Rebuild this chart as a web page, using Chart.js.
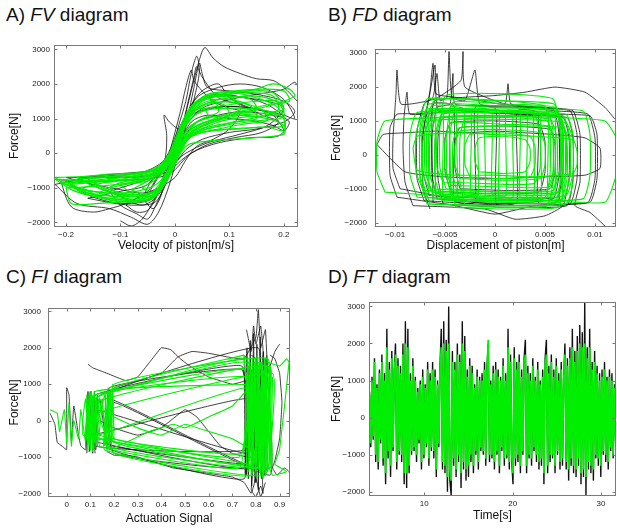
<!DOCTYPE html>
<html>
<head>
<meta charset="utf-8">
<script src="https://cdn.jsdelivr.net/npm/chart.js@4.4.1/dist/chart.umd.min.js"></script>
<style>
  body { margin: 0; background: #fff; width: 617px; height: 528px; overflow: hidden; position: relative; font-family: 'Liberation Sans', Arial, sans-serif; }
  canvas { position: absolute; }
  .ttl { position: absolute; font-size: 19px; line-height: 19px; color: #111; white-space: nowrap; }
  .ttl i { font-style: italic; }
</style>
</head>
<body>
<div class="ttl" style="left:6px;top:5px">A) <i>FV</i> diagram</div>
<div class="ttl" style="left:328px;top:5px">B) <i>FD</i> diagram</div>
<div class="ttl" style="left:6px;top:267px">C) <i>FI</i> diagram</div>
<div class="ttl" style="left:328px;top:267px">D) <i>FT</i> diagram</div>
<canvas id="fv" width="305" height="217" style="left:0px;top:36px"></canvas>
<canvas id="fd" width="310" height="217" style="left:307px;top:36px"></canvas>
<canvas id="fi" width="305" height="230" style="left:0px;top:296px"></canvas>
<canvas id="ft" width="310" height="230" style="left:307px;top:293px"></canvas>
<script>
// tick labels
const forceTicks = [-2000, -1000, 0, 1000, 2000, 3000];
const fvTicksX = [-0.2, -0.1, 0, 0.1, 0.2];
const fdTicksX = [-0.01, -0.005, 0, 0.005, 0.01];
const fiTicksX = [0, 0.1, 0.2, 0.3, 0.4, 0.5, 0.6, 0.7, 0.8, 0.9];
const ftTicksX = [10, 20, 30];

// A) force vs velocity [m/s, N]
const fvBlackLoops = [
  [[-0.05,-1200],[-0.02,-400],[0.01,600],[0.03,1800],[0.045,2700],[0.055,3050],[0.07,2750],[0.09,2500],[0.12,2300],[0.15,2150],[0.18,2100],[0.2,1900],[0.225,1500]],
  [[-0.18,-700],[-0.14,-1000],[-0.1,-1250],[-0.06,-1500],[-0.03,-1200],[0,-300],[0.02,800],[0.035,1900],[0.045,2600],[0.05,2300],[0.06,1900],[0.1,1800],[0.15,1700],[0.2,1500],[0.22,1200],[0.2,900],[0.15,700],[0.1,600],[0.05,400],[0.02,100],[0,-300],[-0.03,-600],[-0.08,-700],[-0.13,-650],[-0.18,-700]],
  [[-0.22,-900],[-0.18,-1450],[-0.12,-1600],[-0.08,-1850],[-0.05,-2050],[-0.03,-1700],[-0.01,-900],[0.01,200],[0.03,1200],[0.05,1600],[0.09,1700],[0.13,1600],[0.17,1500],[0.2,1300],[0.17,800],[0.12,550],[0.06,300],[0.02,0],[-0.02,-450],[-0.07,-550],[-0.14,-650],[-0.22,-900]],
  [[-0.12,-1100],[-0.1,-1500],[-0.07,-1750],[-0.05,-1900],[-0.035,-1500],[-0.015,-800],[0.005,200],[0.02,1200],[0.035,2200],[0.04,2500],[0.05,2200],[0.08,1600],[0.12,1400],[0.16,1100],[0.19,900],[0.16,600],[0.11,450],[0.06,250],[0.02,-100],[-0.01,-500],[-0.05,-750],[-0.12,-1100]],
  [[-0.2,-700],[-0.15,-900],[-0.1,-1050],[-0.06,-1150],[-0.03,-1000],[-0.01,-300],[0.01,500],[0.03,1100],[0.07,1300],[0.11,1350],[0.16,1250],[0.2,1100],[0.22,1000],[0.2,1550],[0.16,1900],[0.12,2000],[0.08,1900],[0.04,1600],[0.01,700],[-0.02,-400],[-0.06,-650],[-0.12,-700],[-0.2,-700]],
  [[-0.16,-1300],[-0.11,-1450],[-0.07,-1500],[-0.035,-1400],[-0.01,-600],[0.01,300],[0.03,900],[0.06,1100],[0.1,1000],[0.14,950],[0.18,800],[0.2,650],[0.18,1100],[0.14,1300],[0.09,1350],[0.05,1250],[0.02,800],[-0.01,-100],[-0.05,-900],[-0.1,-1100],[-0.16,-1300]],
  [[-0.06,-1300],[-0.04,-1600],[-0.025,-1200],[-0.01,-200],[0.005,700],[0.02,1500],[0.03,2300],[0.04,2800],[0.045,2400],[0.04,1900],[0.03,1300],[0.01,700],[-0.01,900],[-0.02,1100],[-0.015,500],[-0.02,-300],[-0.04,-700],[-0.06,-1300]],
  [[-0.1,-1950],[-0.08,-2100],[-0.06,-1900],[-0.04,-1400],[-0.02,-700],[0,0],[0.02,800],[0.05,1300],[0.09,1500],[0.13,1650],[0.17,1750],[0.2,1850],[0.22,2050],[0.225,1950]],
  [[-0.2,-800],[-0.16,-1200],[-0.12,-1400],[-0.08,-1450],[-0.04,-1300],[-0.02,-700],[0.01,300],[0.04,900],[0.08,1100],[0.12,1200],[0.16,1150],[0.2,1050],[0.17,1400],[0.13,1600],[0.08,1650],[0.04,1450],[0.01,800],[-0.02,-200],[-0.06,-550],[-0.12,-650],[-0.2,-800]],
  [[-0.09,-1500],[-0.07,-1700],[-0.05,-1650],[-0.035,-1300],[-0.02,-600],[-0.005,300],[0.01,1200],[0.02,1900],[0.03,2400],[0.035,2100],[0.05,1800],[0.07,1500],[0.1,1300],[0.12,1200],[0.1,700],[0.07,400],[0.04,200],[0.02,-200],[0,-700],[-0.03,-1000],[-0.06,-1200],[-0.09,-1500]],
  [[-0.21,-800],[-0.19,-1550],[-0.15,-1700],[-0.12,-1600],[-0.09,-1450],[-0.05,-1100],[-0.02,-300],[0.01,700],[0.03,1400],[0.05,1800],[0.08,2000],[0.1,1600],[0.14,1300],[0.18,1150],[0.21,900],[0.19,500],[0.14,450],[0.08,300],[0.03,0],[-0.01,-600],[-0.06,-750],[-0.13,-800],[-0.21,-800]]
];
const fvGreenLoops = [
  [[-0.2,-800],[-0.17,-1150],[-0.12,-1300],[-0.07,-1350],[-0.03,-1100],[0,-300],[0.02,350],[0.05,600],[0.1,700],[0.15,750],[0.2,800],[0.19,1300],[0.15,1600],[0.1,1750],[0.05,1600],[0.02,1100],[0,400],[-0.02,-300],[-0.05,-550],[-0.1,-650],[-0.15,-700],[-0.2,-800]],
  [[-0.15,-850],[-0.12,-1100],[-0.08,-1250],[-0.04,-1200],[-0.015,-800],[0.01,100],[0.03,550],[0.07,750],[0.11,900],[0.15,1000],[0.14,1350],[0.1,1550],[0.06,1500],[0.03,1200],[0.005,500],[-0.02,-350],[-0.06,-600],[-0.1,-700],[-0.15,-850]],
  [[-0.22,-750],[-0.19,-1050],[-0.15,-1250],[-0.1,-1400],[-0.05,-1350],[-0.02,-800],[0.01,200],[0.04,650],[0.09,850],[0.14,1000],[0.18,1150],[0.2,1300],[0.18,1750],[0.14,1800],[0.1,1750],[0.05,1550],[0.02,1000],[0,200],[-0.03,-500],[-0.08,-700],[-0.14,-800],[-0.22,-750]],
  [[-0.1,-900],[-0.08,-1150],[-0.05,-1200],[-0.02,-850],[0.005,0],[0.025,500],[0.05,800],[0.08,1000],[0.1,1100],[0.09,1400],[0.06,1450],[0.03,1150],[0.01,400],[-0.015,-400],[-0.04,-650],[-0.07,-800],[-0.1,-900]],
  [[-0.18,-700],[-0.15,-950],[-0.11,-1150],[-0.06,-1250],[-0.025,-950],[0,-200],[0.025,250],[0.06,350],[0.1,400],[0.15,450],[0.2,550],[0.2,800],[0.17,1000],[0.12,1100],[0.07,1050],[0.03,800],[0.005,250],[-0.02,-350],[-0.06,-550],[-0.12,-600],[-0.18,-700]],
  [[-0.16,-750],[-0.12,-1050],[-0.07,-1200],[-0.03,-1000],[0,-100],[0.03,700],[0.08,1000],[0.13,1200],[0.18,1400],[0.22,1650],[0.21,1850],[0.18,2000],[0.15,1850],[0.1,1700],[0.05,1500],[0.02,900],[-0.01,0],[-0.04,-500],[-0.1,-650],[-0.16,-750]],
  [[-0.12,-1000],[-0.09,-1300],[-0.05,-1350],[-0.025,-1000],[0,-200],[0.02,450],[0.05,850],[0.09,1100],[0.12,1250],[0.11,1550],[0.07,1650],[0.035,1400],[0.01,600],[-0.02,-500],[-0.05,-800],[-0.09,-900],[-0.12,-1000]],
  [[-0.2,-1000],[-0.19,-1450],[-0.14,-1450],[-0.09,-1400],[-0.045,-1300],[-0.02,-700],[0.005,100],[0.03,500],[0.08,700],[0.13,850],[0.17,950],[0.16,1250],[0.12,1450],[0.07,1450],[0.03,1150],[0.005,300],[-0.03,-600],[-0.08,-850],[-0.14,-950],[-0.2,-1000]],
  [[-0.06,-1000],[-0.04,-1150],[-0.02,-800],[0,-100],[0.02,500],[0.04,900],[0.06,1100],[0.05,1300],[0.03,1150],[0.01,500],[-0.01,-300],[-0.03,-700],[-0.06,-1000]],
  [[-0.21,-850],[-0.17,-1050],[-0.12,-1150],[-0.07,-1100],[-0.03,-850],[0,-150],[0.03,500],[0.08,900],[0.13,1050],[0.18,1100],[0.2,1200],[0.19,1500],[0.15,1500],[0.1,1400],[0.05,1250],[0.02,800],[-0.01,-100],[-0.05,-650],[-0.11,-800],[-0.21,-850]],
  [[-0.19,-900],[-0.15,-1200],[-0.1,-1350],[-0.06,-1350],[-0.03,-1150],[-0.01,-500],[0.01,200],[0.04,700],[0.08,950],[0.12,1100],[0.16,1150],[0.19,1250],[0.18,1650],[0.14,1750],[0.09,1700],[0.05,1600],[0.025,1250],[0.005,500],[-0.02,-400],[-0.06,-700],[-0.12,-800],[-0.19,-900]],
  [[-0.14,-1150],[-0.1,-1300],[-0.06,-1300],[-0.03,-1100],[-0.01,-450],[0.01,300],[0.04,800],[0.08,1000],[0.12,1150],[0.15,1250],[0.14,1550],[0.1,1650],[0.06,1600],[0.03,1300],[0.01,600],[-0.015,-300],[-0.05,-700],[-0.1,-850],[-0.14,-1150]],
  [[-0.08,-1050],[-0.05,-1250],[-0.03,-1050],[-0.01,-400],[0.01,350],[0.03,800],[0.06,1050],[0.08,1200],[0.07,1550],[0.04,1500],[0.02,1000],[0,200],[-0.02,-450],[-0.05,-800],[-0.08,-1050]],
  [[-0.2,-900],[-0.16,-1150],[-0.1,-1250],[-0.05,-1200],[-0.02,-900],[0,-250],[0.02,400],[0.06,700],[0.11,850],[0.16,950],[0.2,1050],[0.19,1450],[0.15,1650],[0.1,1600],[0.06,1450],[0.03,1100],[0.005,350],[-0.02,-350],[-0.07,-650],[-0.13,-750],[-0.2,-900]],
  [[-0.17,-1000],[-0.13,-1300],[-0.08,-1400],[-0.04,-1300],[-0.015,-800],[0.01,0],[0.03,500],[0.07,650],[0.12,700],[0.17,750],[0.2,650],[0.2,1000],[0.16,1250],[0.11,1300],[0.06,1250],[0.025,950],[0,200],[-0.03,-550],[-0.08,-750],[-0.13,-850],[-0.17,-1000]],
  [[-0.22,-700],[-0.2,-900],[-0.15,-1100],[-0.09,-1200],[-0.045,-1150],[-0.02,-700],[0.005,50],[0.03,600],[0.07,900],[0.12,1200],[0.17,1400],[0.21,1500],[0.2,1800],[0.16,1850],[0.11,1800],[0.06,1700],[0.03,1300],[0.01,600],[-0.02,-250],[-0.06,-550],[-0.14,-650],[-0.22,-700]]
];

// B) force vs displacement [m, N]
const fdBlackLoops = [
  [[-0.0071,-1350],[-0.0078,-700],[-0.0078,700],[-0.0071,1500],[-0.0062,1700],[-0.0058,2400],[-0.0055,1600],[-0.0048,1700],[-0.0046,3050],[-0.0043,1700],[-0.003,1600],[-0.002,2500],[-0.0015,1500],[0.002,1400],[0.0075,1300],[0.0082,600],[0.0082,-700],[0.0075,-1450],[0.003,-1500],[-0.002,-1450],[-0.0071,-1350]],
  [[-0.0095,-1000],[-0.0102,-400],[-0.0102,500],[-0.0099,1800],[-0.0098,2500],[-0.0094,1500],[-0.006,1650],[-0.0034,2200],[-0.0032,3050],[-0.003,2000],[0.001,1500],[0.006,1300],[0.0093,1200],[0.01,500],[0.01,-700],[0.0093,-1400],[0.004,-1450],[-0.002,-1400],[-0.0095,-1000]],
  [[-0.0118,300],[-0.0112,600],[-0.009,650],[-0.006,700],[-0.003,650],[0,700],[0.003,650],[0.006,600],[0.009,500],[0.0105,200],[0.0105,-400],[0.009,-600],[0.005,-650],[0,-700],[-0.005,-650],[-0.009,-500],[-0.0118,300]],
  [[-0.0065,-1600],[-0.0072,-1000],[-0.0073,400],[-0.0069,1200],[-0.0065,1900],[-0.0062,2700],[-0.0059,1800],[-0.004,1700],[-0.0015,1600],[0.001,1500],[0.0013,2100],[0.0016,1500],[0.005,1400],[0.0078,1300],[0.0085,600],[0.0085,-800],[0.008,-1500],[0.0095,-1700],[0.011,-2100]],
  [[-0.0098,-1250],[-0.0105,-600],[-0.0105,800],[-0.0098,1200],[-0.007,1250],[-0.006,2650],[-0.0057,1300],[-0.002,1250],[0.003,1200],[0.0095,1150],[0.0102,600],[0.0102,-700],[0.0095,-1400],[0.004,-1500],[0,-1750],[-0.004,-1500],[-0.0098,-1250]],
  [[-0.0044,-1100],[-0.005,-500],[-0.005,500],[-0.0044,950],[0,1000],[0.0044,900],[0.005,400],[0.005,-500],[0.0044,-1100],[0,-1150],[-0.0044,-1100]],
  [[-0.0065,1000],[-0.006,1600],[-0.003,1700],[0,1750],[0.003,1850],[0.006,2000],[0.009,1850],[0.011,1400],[0.012,1050]],
  [[-0.0082,-1500],[-0.009,-800],[-0.0092,200],[-0.0091,1100],[-0.0088,1850],[-0.0085,1200],[-0.004,1300],[0.002,1200],[0.0068,1100],[0.0074,500],[0.0074,-700],[0.0068,-1500],[0.005,-1800],[0.002,-1900],[-0.001,-1600],[-0.0082,-1500]],
  [[-0.0058,-1300],[-0.0063,-600],[-0.0063,600],[-0.0058,1400],[-0.0045,1500],[-0.0042,2400],[-0.004,1500],[0,1450],[0.0058,1350],[0.0064,600],[0.0064,-600],[0.0058,-1300],[0,-1450],[-0.0058,-1300]],
  [[-0.0035,-1000],[-0.004,-400],[-0.004,400],[-0.0035,800],[0.001,850],[0.0055,750],[0.006,300],[0.006,-500],[0.0055,-1000],[0.001,-1050],[-0.0035,-1000]],
  [[-0.0066,-1200],[-0.0072,-500],[-0.0072,600],[-0.0066,1300],[0,1250],[0.0062,1150],[0.0068,600],[0.0068,-500],[0.0062,-1250],[0,-1300],[-0.0066,-1200]],
  [[-0.0052,-1450],[-0.0057,-700],[-0.0057,500],[-0.0052,1100],[0.001,1150],[0.0072,1100],[0.0078,500],[0.0078,-700],[0.0072,-1500],[0.001,-1550],[-0.0052,-1450]],
  [[-0.0062,-1400],[-0.0062,1500],[-0.0041,1450],[-0.0041,-1350],[-0.002,-1400],[-0.002,1400],[0.0001,1350],[0.0001,-1450],[0.0022,-1400],[0.0022,1300],[0.0043,1250],[0.0043,-1400],[0.0064,-1350],[0.0064,1200]]
];
const fdGreenLoops = [
  [[-0.0068,-1250],[-0.0075,-600],[-0.0075,600],[-0.0068,1350],[0,1300],[0.0068,1150],[0.0075,500],[0.0075,-600],[0.0068,-1300],[0,-1350],[-0.0068,-1250]],
  [[-0.0063,-1100],[-0.007,-500],[-0.007,700],[-0.0063,1450],[0,1400],[0.0061,1300],[0.0068,600],[0.0068,-500],[0.0061,-1150],[0,-1200],[-0.0063,-1100]],
  [[-0.0053,-1350],[-0.006,-700],[-0.006,500],[-0.0053,1200],[0.001,1250],[0.0065,1100],[0.0072,400],[0.0072,-700],[0.0065,-1400],[0.001,-1400],[-0.0053,-1350]],
  [[-0.0044,-900],[-0.005,-400],[-0.005,400],[-0.0044,950],[0.001,900],[0.0054,850],[0.006,350],[0.006,-450],[0.0054,-950],[0.001,-950],[-0.0044,-900]],
  [[-0.0061,-1300],[-0.0068,-600],[-0.0068,800],[-0.0061,1600],[-0.002,1650],[0.0049,1450],[0.0055,700],[0.0055,-600],[0.0049,-1300],[-0.001,-1350],[-0.0061,-1300]],
  [[-0.0035,-700],[-0.004,-300],[-0.004,300],[-0.0035,700],[0.0005,750],[0.0045,650],[0.005,300],[0.005,-300],[0.0045,-700],[0.0005,-750],[-0.0035,-700]],
  [[-0.0065,-1450],[-0.0072,-800],[-0.0072,400],[-0.0065,1000],[0,1050],[0.0071,950],[0.0078,400],[0.0078,-800],[0.0071,-1450],[0,-1500],[-0.0065,-1450]],
  [[-0.0025,-650],[-0.003,-300],[-0.003,300],[-0.0025,600],[0.0005,650],[0.0035,550],[0.004,250],[0.004,-300],[0.0035,-650],[0.0005,-700],[-0.0025,-650]],
  [[-0.011,-1100],[-0.0118,-500],[-0.0118,400],[-0.011,1000],[-0.005,1100],[0,1150],[0.006,1100],[0.011,1000],[0.0121,500],[0.0121,-600],[0.011,-1400],[0.005,-1350],[0,-1300],[-0.006,-1200],[-0.011,-1100]],
  [[-0.0078,-1250],[-0.0085,-600],[-0.0085,600],[-0.0078,1250],[0,1350],[0.0088,1300],[0.0095,600],[0.0095,-600],[0.0088,-1300],[0,-1350],[-0.0078,-1250]],
  [[-0.0049,-1000],[-0.0055,-400],[-0.0055,900],[-0.0049,1750],[0.001,1800],[0.0058,1650],[0.0065,800],[0.0065,-400],[0.0058,-1050],[0.001,-1100],[-0.0049,-1000]],
  [[-0.0039,-1550],[-0.0045,-800],[-0.0045,600],[-0.0039,1350],[0.001,1300],[0.0063,1250],[0.007,600],[0.007,-800],[0.0063,-1550],[0.001,-1600],[-0.0039,-1550]],
  [[-0.0058,-1200],[-0.0065,-600],[-0.0065,500],[-0.0058,1100],[0,1150],[0.0055,1050],[0.0062,500],[0.0062,-600],[0.0055,-1250],[0,-1250],[-0.0058,-1200]],
  [[-0.0066,-1000],[-0.0073,-500],[-0.0073,700],[-0.0066,1500],[0,1450],[0.0051,1400],[0.0058,700],[0.0058,-500],[0.0051,-1050],[0,-1100],[-0.0066,-1000]],
  [[-0.0036,-1300],[-0.0042,-600],[-0.0042,400],[-0.0036,800],[0.002,850],[0.0068,800],[0.0075,400],[0.0075,-600],[0.0068,-1300],[0.002,-1350],[-0.0036,-1300]],
  [[-0.0052,-800],[-0.0058,-400],[-0.0058,600],[-0.0052,1250],[-0.001,1300],[0.0039,1200],[0.0045,600],[0.0045,-400],[0.0039,-850],[-0.001,-850],[-0.0052,-800]],
  [[-0.0068,-1450],[-0.0075,-700],[-0.0075,800],[-0.0068,1650],[-0.001,1600],[0.0059,1500],[0.0066,700],[0.0066,-700],[0.0059,-1450],[0,-1500],[-0.0068,-1450]],
  [[-0.0059,-1150],[-0.0066,-500],[-0.0066,600],[-0.0059,1350],[0.001,1300],[0.0071,1200],[0.0078,600],[0.0078,-500],[0.0071,-1200],[0.001,-1250],[-0.0059,-1150]],
  [[-0.0042,-1350],[-0.0048,-700],[-0.0048,700],[-0.0042,1550],[0.001,1500],[0.0061,1400],[0.0068,700],[0.0068,-700],[0.0061,-1400],[0.001,-1400],[-0.0042,-1350]],
  [[-0.0016,-500],[-0.002,-200],[-0.002,200],[-0.0016,500],[0.0008,550],[0.003,450],[0.0035,200],[0.0035,-200],[0.003,-500],[0.0008,-550],[-0.0016,-500]],
  [[-0.0072,-1050],[-0.0079,-500],[-0.0079,600],[-0.0072,1200],[0,1250],[0.0064,1150],[0.0071,600],[0.0071,-500],[0.0064,-1100],[0,-1150],[-0.0072,-1050]],
  [[-0.003,-1500],[-0.0035,-800],[-0.0035,500],[-0.003,1050],[0.001,1100],[0.0052,1000],[0.0058,500],[0.0058,-800],[0.0052,-1500],[0.001,-1550],[-0.003,-1500]],
  [[-0.0066,-1150],[-0.0066,1250],[-0.0052,1300],[-0.0052,-1200],[-0.0038,-1250],[-0.0038,1350],[-0.0024,1300],[-0.0024,-1200],[-0.001,-1250],[-0.001,1250],[0.0004,1300],[0.0004,-1300],[0.0018,-1250],[0.0018,1200],[0.0032,1250],[0.0032,-1300],[0.0046,-1250],[0.0046,1150],[0.006,1100],[0.006,-1200]],
  [[-0.0059,1400],[-0.0059,-1100],[-0.0045,-1150],[-0.0045,1400],[-0.0031,1350],[-0.0031,-1150],[-0.0017,-1200],[-0.0017,1350],[-0.0003,1300],[-0.0003,-1150],[0.0011,-1200],[0.0011,1300],[0.0025,1250],[0.0025,-1250],[0.0039,-1200],[0.0039,1250],[0.0053,1200],[0.0053,-1250],[0.0067,-1200],[0.0067,1100]],
  [[-0.0082,200],[-0.0078,550],[-0.004,650],[0,600],[0.004,550],[0.0078,450],[0.0082,100],[0.0082,-300],[0.0078,-550],[0.004,-650],[0,-600],[-0.004,-600],[-0.0078,-450],[-0.0082,200]]
];

// C) force vs actuation signal [-, N]
const fiBlackPaths = [
  [[0.09,1550],[0.11,1450],[0.13,1400],[0.15,1350],[0.17,1300],[0.25,1100],[0.3,1200],[0.35,1600],[0.4,2000],[0.44,1950],[0.48,1700],[0.52,1500],[0.6,1200],[0.7,1000],[0.76,1100]],
  [[0.2,900],[0.3,1100],[0.4,1300],[0.47,1750],[0.53,1900],[0.6,1850],[0.68,1750],[0.75,1700],[0.8,2300],[0.81,3050],[0.82,2000],[0.84,2500],[0.85,1300],[0.86,1500],[0.88,1900],[0.9,2100]],
  [[0.08,-700],[0.1,800],[0.11,-800],[0.12,700],[0.74,1500],[0.76,-1500],[0.78,1400],[0.8,-1700],[0.82,1600],[0.84,-1400],[0.18,600],[0.19,-800],[0.75,-1600],[0.77,1500],[0.79,-1200],[0.81,2000],[0.19,800],[0.17,-650],[0.74,-1200]],
  [[0.17,-850],[0.2,-950],[0.25,-950],[0.3,-1000],[0.35,-1100],[0.4,-1200],[0.45,-1300],[0.5,-1350],[0.55,-1400],[0.6,-1450],[0.65,-1500],[0.7,-1550],[0.75,-1700],[0.78,-2000],[0.8,-1600],[0.82,-2100],[0.84,-1700]],
  [[0.14,0],[0.2,-200],[0.3,-400],[0.4,-200],[0.5,300],[0.55,100],[0.6,-300],[0.65,-700],[0.7,-900],[0.78,-1000],[0.8,1500],[0.82,-1300],[0.84,1700],[0.86,-1500],[0.2,500],[0.17,-700],[0.14,600],[0.12,-700],[0.76,-800],[0.8,1300]],
  [[-0.07,200],[-0.05,-100],[-0.04,-600],[-0.02,-700],[0,-800],[0,900],[0.01,700],[0.02,-600],[0.03,400],[0.05,-400],[0.06,-700],[0.08,-800],[0.1,600],[0.12,-900]],
  [[0.86,1800],[0.88,1700],[0.9,1300],[0.91,500],[0.9,-500],[0.88,-1100],[0.87,-1300],[0.89,-1500],[0.92,-1300],[0.94,-1400],[0.95,-1700]],
  [[0.76,2500],[0.78,1900],[0.79,2600],[0.8,2100],[0.82,2600],[0.83,1900],[0.78,-1900],[0.8,-2100],[0.82,-1800],[0.83,-2000],[0.8,1700],[0.78,1800]],
  [[0.13,-600],[0.75,-1300],[0.78,1200],[0.8,-1300],[0.2,-900],[0.18,900],[0.74,1400],[0.77,-900],[0.12,300],[0.1,-400],[0.76,600],[0.81,-1000]],
  [[0.75,1800],[0.755,-1500],[0.762,2000],[0.768,-1600],[0.776,2200],[0.782,-1800],[0.79,2400],[0.796,-1700],[0.804,2100],[0.81,-1900],[0.818,2300],[0.824,-1600],[0.832,1900],[0.838,-1500],[0.846,1800]],
  [[0.085,-900],[0.09,800],[0.097,-850],[0.103,750],[0.11,-900],[0.117,800],[0.123,-800],[0.13,700]]
];
const fiGreenPaths = [
  [[0.08,-500],[0.09,600],[0.1,-700],[0.11,700],[0.12,-600],[0.13,650],[0.76,1600],[0.78,-1300],[0.8,1700],[0.82,-1500],[0.84,1500],[0.86,-1300],[0.17,-700],[0.18,800],[0.19,-600],[0.2,900],[0.75,1800]],
  [[0.75,1800],[0.79,-1200],[0.83,1400],[0.85,-1400],[0.87,1300],[0.13,200],[0.11,-750],[0.1,800],[0.09,-650],[0.12,700],[0.78,1200],[0.8,-1000],[0.82,1600],[0.84,-1500],[0.16,-800],[0.18,600],[0.2,-500],[0.74,-900],[0.76,1300],[0.8,-1400]],
  [[0.8,-1400],[0.81,1400],[0.83,-1600],[0.85,1700],[0.2,1000],[0.18,-500],[0.16,700],[0.14,-700],[0.73,-1300],[0.78,1100],[0.82,-1200],[0.85,1500],[0.12,500],[0.1,-800],[0.08,600],[0.07,-400],[0.73,-1000],[0.79,1300]],
  [[0.79,1300],[0.84,-1300],[0.86,1500],[0.7,400],[0.6,100],[0.5,-200],[0.45,-100],[0.35,-300],[0.25,-600],[0.17,-800],[0.15,600],[0.12,-600],[0.1,500],[0.08,-500],[0.76,900],[0.82,-1100],[0.84,1300],[0.86,-800]],
  [[-0.07,300],[-0.04,200],[-0.03,-300],[-0.01,300],[0,-600],[0.01,500],[0.02,-700],[0.03,0],[0.05,-500],[0.06,300],[0.08,-600],[0.1,700]],
  [[0.85,1600],[0.9,1500],[0.93,1700],[0.94,1600],[0.9,-800],[0.88,-1200],[0.93,-1400],[0.87,-1500],[0.85,-1200]],
  [[0.2,100],[0.3,-200],[0.4,-400],[0.5,-100],[0.6,-300],[0.7,-500],[0.82,-900],[0.83,1100],[0.85,-1300],[0.1,-400],[0.12,650],[0.14,-400],[0.77,-1200]],
  [[0.76,-1300],[0.765,1500],[0.77,-1400],[0.775,1600],[0.78,-1500],[0.785,1700],[0.79,-1400],[0.795,1600],[0.8,-1500],[0.805,1800],[0.81,-1300],[0.815,1700],[0.82,-1500],[0.825,1600],[0.83,-1400],[0.835,1700],[0.84,-1500],[0.845,1500],[0.85,-1300],[0.855,1600],[0.86,-1200],[0.865,1400]],
  [[0.77,1200],[0.772,-1100],[0.78,1400],[0.788,-1300],[0.797,1500],[0.803,-1200],[0.812,1600],[0.818,-1400],[0.827,1400],[0.833,-1500],[0.842,1700],[0.848,-1400],[0.857,1500],[0.863,-1300],[0.87,1200]],
  [[0.08,-800],[0.085,700],[0.09,-850],[0.095,750],[0.1,-800],[0.105,800],[0.11,-850],[0.115,700],[0.12,-750],[0.125,650],[0.13,-700],[0.135,600]],
  [[0.16,-700],[0.165,800],[0.17,-750],[0.175,900],[0.18,-800],[0.185,850],[0.19,-700],[0.195,1000],[0.2,-600]],
  [[0.2,800],[0.76,1700],[0.79,-1200],[0.2,-600],[0.14,700],[0.75,1400],[0.78,-1500],[0.2,-900],[0.12,800],[0.77,1000]]
];

// D) force vs time, sampled from 3.8 s every 0.14 s
const ftStart = 3.8;
const ftStep = 0.14;
const ftBlack = [
  700,-800,1100,-600,1600,-1200,900,-1400,1300,-700,1700,-1300,1200,-1800,2400,-1100,1500,-1600,1800,-900,
  1300,2000,-1400,1600,-1000,1400,-1200,2000,-1800,2600,-1900,2400,-1500,1200,-1000,1600,-900,1100,-1200,800,
  -700,1000,-1400,1300,-1100,900,-800,1500,-1300,1200,-900,1500,-1100,1300,-1600,1000,-800,1400,2400,-1400,
  2600,-1500,2100,-2000,3000,-1700,-2100,1800,-1300,1500,-1600,2000,-1200,1700,-1900,2600,-1400,2200,-1700,1300,
  -1600,1600,-1200,1400,-1500,900,-1000,1300,-1400,1100,-900,1200,-1000,1500,-1300,1400,2000,-1200,1000,-1100,
  1400,-1400,1500,-1000,1300,-1500,1100,-900,1600,-1300,1200,-1100,2400,-1400,1700,-1200,-1800,1900,-1300,1500,
  -1200,1700,-1500,1300,-1000,1600,2100,-1500,1400,-1100,1200,-1300,1600,-900,1100,-1200,1500,-1400,1000,-1300,
  1300,-1800,1600,2100,-1500,1400,-1200,1700,-1100,1300,-1500,1600,-1000,1200,-1400,1500,-1300,1100,2000,-1400,
  1600,-1700,1900,-1300,2400,-1500,1800,-1600,2200,-1300,2500,-1800,2300,-1600,3100,-2100,1900,-1400,2400,-1500,
  1500,-1700,1800,-1100,1400,-1300,1200,-1600,1300,-1000,1500,-1200,1100,-1400,1300,-900,1200,-1100,900,-700
];
const ftGreen = [
  600,-700,1000,-500,1500,-1000,800,-1200,1200,-600,1500,-1100,1000,-1500,1900,-900,1300,-1300,1600,-800,
  1100,1700,-1200,1400,-900,1200,-1000,1700,-1500,2000,-1500,1900,-1300,1000,-900,1400,-800,1000,-1000,700,
  -600,900,-1200,1100,-1000,800,-700,1300,-1100,1000,-800,1300,-900,1100,-1400,900,-700,1200,1900,-1200,
  2000,-1300,1800,-1600,2000,-1400,-1700,1500,-1100,1300,-1400,1700,-1000,1500,-1500,2000,-1200,1800,-1400,1100,
  -1300,1400,-1000,1200,-1300,800,-900,1100,-1200,1000,-800,1000,-900,1300,-1100,1200,2100,-1000,900,-1000,
  1200,-1200,1300,-900,1100,-1300,1000,-800,1400,-1100,1000,-1000,1900,-1200,1500,-1000,-1500,1600,-1100,1300,
  -1000,1500,-1300,1100,-900,1400,1700,-1300,1200,-1000,1000,-1100,1400,-800,1000,-1000,1300,-1200,900,-1100,
  1100,-1500,1400,1700,-1300,1200,-1000,1500,-1000,1100,-1300,1400,-900,1000,-1200,1300,-1100,1000,1700,-1200,
  1400,-1400,1600,-1100,1900,-1300,1500,-1400,1800,-1100,2000,-1500,1900,-1400,2000,-1600,1600,-1200,1900,-1300,
  1300,-1400,1500,-1000,1200,-1100,1000,-1300,1100,-900,1300,-1000,1000,-1200,1100,-800,1000,-1000,800,-600
];

const BLACK = '#111111';
const GREEN = '#00ee00';

Chart.defaults.font.family = "'Liberation Sans', Arial, sans-serif";
Chart.defaults.color = '#222';

const framePlugin = {
  id: 'frame',
  afterDatasetsDraw(chart) {
    const a = chart.chartArea;
    const ctx = chart.ctx;
    const l = Math.round(a.left) + 0.5, t = Math.round(a.top) + 0.5;
    const r = Math.round(a.right) - 0.5, b = Math.round(a.bottom) - 0.5;
    ctx.save();
    ctx.strokeStyle = '#7a7a7a';
    ctx.lineWidth = 1;
    ctx.strokeRect(l, t, r - l, b - t);
    // small inward tick marks
    ctx.beginPath();
    chart.scales.x.ticks.forEach(tk => {
      const px = Math.round(chart.scales.x.getPixelForValue(tk.value)) + 0.5;
      ctx.moveTo(px, b); ctx.lineTo(px, b - 3);
      ctx.moveTo(px, t); ctx.lineTo(px, t + 3);
    });
    chart.scales.y.ticks.forEach(tk => {
      const py = Math.round(chart.scales.y.getPixelForValue(tk.value)) + 0.5;
      ctx.moveTo(l, py); ctx.lineTo(l + 3, py);
      ctx.moveTo(r, py); ctx.lineTo(r - 3, py);
    });
    ctx.stroke();
    ctx.restore();
  }
};

// lower dataset index is painted on top, so green sets go first
function toSets(paths, color, width, tension) {
  return paths.map(p => ({
    data: p.map(pt => ({ x: pt[0], y: pt[1] })),
    borderColor: color,
    borderWidth: width,
    showLine: true,
    pointRadius: 0,
    tension: tension
  }));
}

function fmt(v) {
  return String(v).replace('-', '\u2212');
}

function makePanel(id, box, area, cfg) {
  const ctx = document.getElementById(id).getContext('2d');
  return new Chart(ctx, {
    type: 'scatter',
    data: { datasets: cfg.datasets },
    options: {
      responsive: false,
      animation: false,
      events: [],
      layout: { padding: { left: 0, bottom: 0, top: area.t - box.y, right: box.x + box.w - area.r } },
      plugins: { legend: { display: false }, tooltip: { enabled: false } },
      scales: {
        x: {
          type: 'linear',
          min: cfg.xMin, max: cfg.xMax,
          afterBuildTicks: s => { s.ticks = cfg.xTicks.map(v => ({ value: v })); },
          afterFit: s => { s.height = box.y + box.h - area.b; },
          grid: { display: false, drawTicks: false },
          border: { display: false },
          ticks: { font: { size: 8 }, padding: 3, maxRotation: 0, autoSkip: false, callback: v => fmt(v) },
          title: { display: true, text: cfg.xTitle, font: { size: 12 }, color: '#111', padding: { top: 0, bottom: 0 } }
        },
        y: {
          type: 'linear',
          min: cfg.yMin, max: cfg.yMax,
          afterBuildTicks: s => { s.ticks = forceTicks.map(v => ({ value: v })); },
          afterFit: s => { s.width = area.l - box.x; },
          grid: { display: false, drawTicks: false },
          border: { display: false },
          ticks: { font: { size: 8 }, padding: cfg.yPad, autoSkip: false, callback: v => fmt(v) },
          title: { display: true, text: 'Force[N]', font: { size: 12 }, color: '#111', padding: { top: cfg.yTitlePad, bottom: 0 } }
        }
      }
    },
    plugins: [framePlugin]
  });
}

makePanel('fv', { x: 0, y: 36, w: 305, h: 217 }, { l: 54, t: 43, r: 298, b: 227 }, {
  datasets: toSets(fvGreenLoops, GREEN, 1.2, 0.3).concat(toSets(fvBlackLoops, BLACK, 0.8, 0.3)),
  xMin: -0.222, xMax: 0.226, yMin: -2130, yMax: 3130, xTicks: fvTicksX,
  xTitle: 'Velocity of piston[m/s]', yPad: 4, yTitlePad: 7
});

makePanel('fd', { x: 307, y: 36, w: 310, h: 217 }, { l: 375, t: 43, r: 616, b: 227 }, {
  datasets: toSets(fdGreenLoops, GREEN, 1.1, 0.15).concat(toSets(fdBlackLoops, BLACK, 0.8, 0.15)),
  xMin: -0.012, xMax: 0.0121, yMin: -2130, yMax: 3130, xTicks: fdTicksX,
  xTitle: 'Displacement of piston[m]', yPad: 8, yTitlePad: 22
});

makePanel('fi', { x: 0, y: 296, w: 305, h: 230 }, { l: 48, t: 303, r: 290, b: 497 }, {
  datasets: toSets(fiGreenPaths, GREEN, 1.1, 0.1).concat(toSets(fiBlackPaths, BLACK, 0.8, 0.1)),
  xMin: -0.079, xMax: 0.944, yMin: -2100, yMax: 3100, xTicks: fiTicksX,
  xTitle: 'Actuation Signal', yPad: 7, yTitlePad: 7
});

const ftBlackPts = ftBlack.map((v, i) => [ftStart + i * ftStep, v]);
const ftGreenPts = ftGreen.map((v, i) => [ftStart + i * ftStep, v]);
makePanel('ft', { x: 307, y: 293, w: 310, h: 230 }, { l: 369, t: 300, r: 616, b: 496 }, {
  datasets: toSets([ftGreenPts], GREEN, 1.8, 0).concat(toSets([ftBlackPts], BLACK, 1.4, 0)),
  xMin: 3.74, xMax: 31.7, yMin: -2115, yMax: 3125, xTicks: ftTicksX,
  xTitle: 'Time[s]', yPad: 4, yTitlePad: 22
});
</script>
</body>
</html>
